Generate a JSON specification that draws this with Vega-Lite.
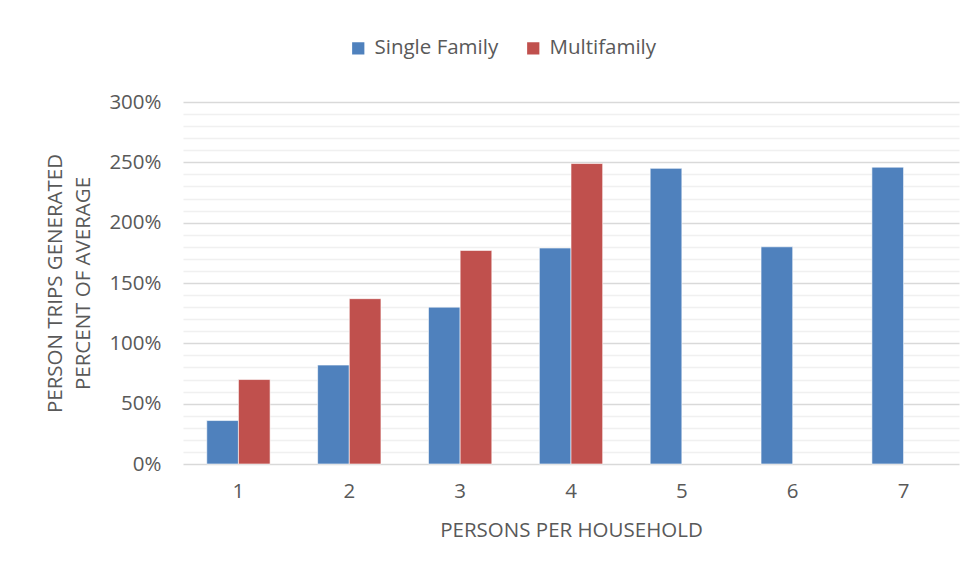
{
  "$schema": "https://vega.github.io/schema/vega-lite/v6.json",
  "autosize": {"type": "none"},
  "width": 776,
  "height": 362,
  "padding": {"left": 183, "top": 102, "right": 17, "bottom": 113},
  "background": "white",
  "config": {
    "font": "Open Sans",
    "view": {"stroke": null},
    "axis": {
      "labelFont": "Open Sans",
      "titleFont": "Open Sans",
      "labelColor": "#595959",
      "titleColor": "#595959",
      "labelFontSize": 20.5,
      "titleFontSize": 20.5,
      "titleFontWeight": "normal",
      "domain": false,
      "ticks": false
    },
    "legend": {
      "labelFont": "Open Sans",
      "labelFontSize": 20.5,
      "labelColor": "#595959"
    }
  },
  "data": {
    "values": [
      {"persons": "1", "series": "Single Family", "pct": 36},
      {"persons": "1", "series": "Multifamily", "pct": 70},
      {"persons": "2", "series": "Single Family", "pct": 82},
      {"persons": "2", "series": "Multifamily", "pct": 137},
      {"persons": "3", "series": "Single Family", "pct": 130},
      {"persons": "3", "series": "Multifamily", "pct": 177},
      {"persons": "4", "series": "Single Family", "pct": 179},
      {"persons": "4", "series": "Multifamily", "pct": 249},
      {"persons": "5", "series": "Single Family", "pct": 245},
      {"persons": "6", "series": "Single Family", "pct": 180},
      {"persons": "7", "series": "Single Family", "pct": 246}
    ]
  },
  "mark": {"type": "bar", "stroke": "white", "strokeWidth": 1, "strokeOpacity": 0.6},
  "encoding": {
    "x": {
      "field": "persons",
      "type": "ordinal",
      "scale": {"paddingInner": 0.4286, "paddingOuter": 0.2143},
      "axis": {
        "labelAngle": 0,
        "labelPadding": 17,
        "grid": false,
        "title": "PERSONS PER HOUSEHOLD",
        "titlePadding": 19
      }
    },
    "xOffset": {
      "field": "series",
      "type": "nominal",
      "scale": {"domain": ["Single Family", "Multifamily"], "paddingInner": 0, "paddingOuter": 0}
    },
    "y": {
      "field": "pct",
      "type": "quantitative",
      "scale": {"domain": [0, 300], "nice": false},
      "axis": {
        "values": [0, 10, 20, 30, 40, 50, 60, 70, 80, 90, 100, 110, 120, 130, 140, 150, 160, 170, 180, 190, 200, 210, 220, 230, 240, 250, 260, 270, 280, 290, 300],
        "labelExpr": "datum.value % 50 === 0 ? datum.value + '%' : ''",
        "labelPadding": 22,
        "gridColor": {"condition": {"test": "datum.value % 50 === 0", "value": "#d9d9d9"}, "value": "#f0f0f0"},
        "gridWidth": 1.3,
        "title": ["PERSON TRIPS GENERATED", "PERCENT OF AVERAGE"],
        "titlePadding": 15,
        "titleLineHeight": 28
      }
    },
    "color": {
      "field": "series",
      "type": "nominal",
      "scale": {"domain": ["Single Family", "Multifamily"], "range": ["#4F81BD", "#C0504D"]},
      "legend": {
        "title": null,
        "orient": "none",
        "direction": "horizontal",
        "legendX": 165,
        "legendY": -64,
        "symbolType": "square",
        "symbolSize": 150,
        "symbolStrokeWidth": 0,
        "labelOffset": 6,
        "columnPadding": 24
      }
    }
  }
}
